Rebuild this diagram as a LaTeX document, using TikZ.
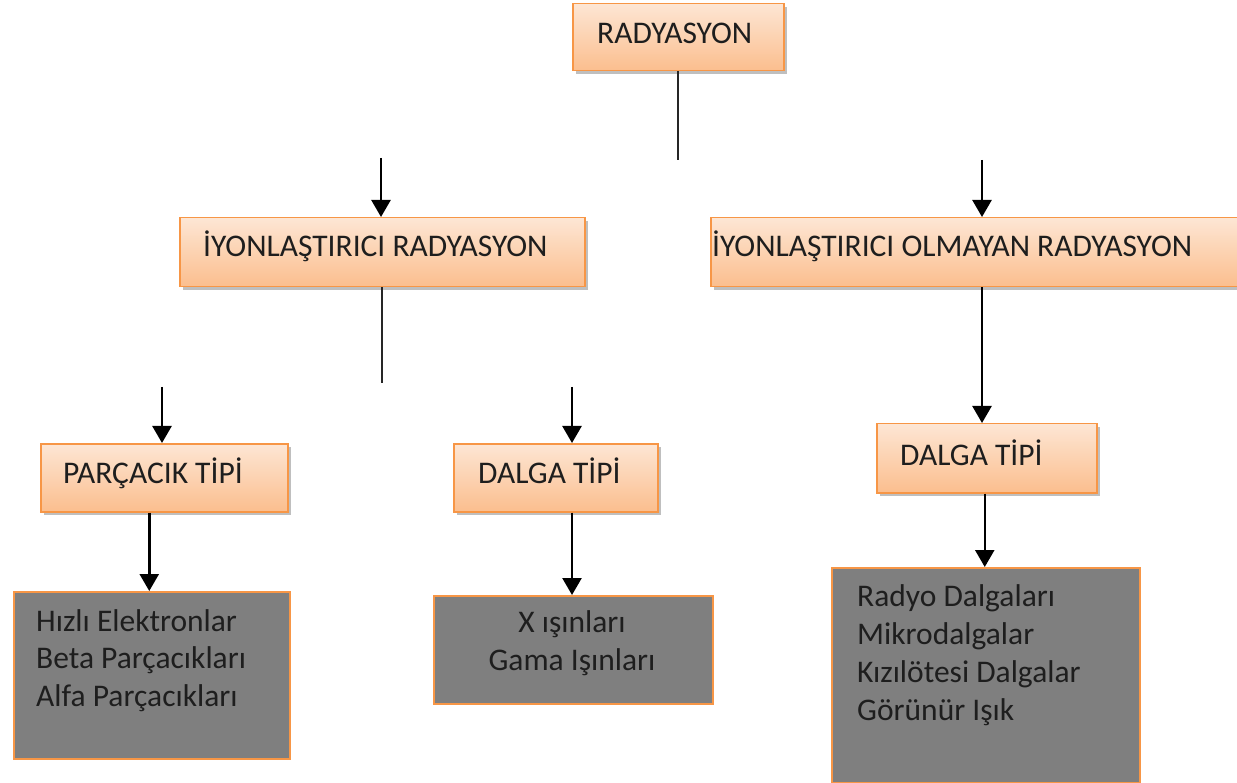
\documentclass[tikz,border=0pt]{standalone}
\usepackage{fontspec}
\setmainfont{Carlito}
\usetikzlibrary{arrows.meta,shadows,calc}
\definecolor{obord}{RGB}{247,150,70}
\definecolor{otop}{RGB}{253,230,212}
\definecolor{obot}{RGB}{251,190,142}
\definecolor{gfill}{RGB}{127,127,127}
\definecolor{tcol}{RGB}{30,30,30}
\begin{document}
\begin{tikzpicture}[x=1pt,y=-1pt,
  obox/.style={draw=obord, line width=1.5pt, top color=otop, bottom color=obot,
    anchor=north west, inner sep=0pt,
    drop shadow={shadow xshift=3pt, shadow yshift=-3pt, opacity=0.25, fill=black}},
  gbox/.style={draw=obord, line width=1.5pt, fill=gfill, anchor=north west, inner sep=0pt},
  txt/.style={text=tcol, inner sep=0pt, font=\fontsize{31.5}{37.7}\selectfont},
  arr/.style={line width=2.5pt, -{Triangle[width=19pt,length=17pt]}},
  ln/.style={line width=1.4pt, draw=black!85}]
\useasboundingbox (0,0) rectangle (1237,783);

% boxes
\node[obox, minimum width=211pt, minimum height=67pt] (rad) at (572,3) {};
\node[obox, minimum width=405pt, minimum height=69pt] (iyon) at (179,217) {};
\node[obox, minimum width=540pt, minimum height=69pt] (olm) at (710,217) {};
\node[obox, minimum width=247pt, minimum height=68pt] (parc) at (40,443) {};
\node[obox, minimum width=204pt, minimum height=68pt] (dalga1) at (453,443) {};
\node[obox, minimum width=220pt, minimum height=69pt] (dalga2) at (876,423) {};
\node[gbox, minimum width=276pt, minimum height=167pt] (g1) at (13,591) {};
\node[gbox, minimum width=279pt, minimum height=108pt] (g2) at (433,595) {};
\node[gbox, minimum width=308pt, minimum height=215pt] (g3) at (831,567) {};

% texts
\node[txt, anchor=base west] (trad) at (597,44) {RADYASYON};
\node[txt, anchor=base west] (tiyon) at (203,257) {İYONLAŞTIRICI RADYASYON};
\node[txt, anchor=base west] (tolm) at (712,257) {İYONLAŞTIRICI OLMAYAN RADYASYON};
\node[txt, anchor=base west] (tparc) at (63,483) {PARÇACIK TİPİ};
\node[txt, anchor=base west] (td1) at (478,483) {DALGA TİPİ};
\node[txt, anchor=base west] (td2) at (900,465) {DALGA TİPİ};
\node[txt, anchor=base west, align=left] (tg1) at (36,706.4) {Hızlı Elektronlar\\Beta Parçacıkları\\Alfa Parçacıkları};
\node[txt, anchor=base, align=center] (tg2) at (572,670) {X ışınları\\Gama Işınları};
\node[txt, anchor=base west, align=left] (tg3) at (857,720) {Radyo Dalgaları\\Mikrodalgalar\\Kızılötesi Dalgalar\\Görünür Işık};

% free ends
\coordinate (c0) at (678,160);
\coordinate (a1) at (381,158);
\coordinate (a2) at (982,160);
\coordinate (c1) at (382,383);
\coordinate (a3) at (162,387);
\coordinate (a4) at (572,387);

% connectors
\draw[ln] (rad.south -| c0) -- (c0);
\draw[arr] (a1) -- (a1 |- iyon.north);
\draw[arr] (a2) -- (a2 |- olm.north);
\draw[ln] (iyon.south -| c1) -- (c1);
\draw[arr] (a3) -- (a3 |- parc.north);
\draw[arr] (a4) -- (a4 |- dalga1.north);
\draw[arr] (a2 |- olm.south) -- (a2 |- dalga2.north);
\draw[arr] ([xshift=-15pt]parc.south) -- ([xshift=-15pt]parc.south |- g1.north);
\draw[arr] (a4 |- dalga1.south) -- (a4 |- g2.north);
\draw[arr] ([xshift=-2pt]dalga2.south) -- ([xshift=-2pt]dalga2.south |- g3.north);
\end{tikzpicture}
\end{document}
